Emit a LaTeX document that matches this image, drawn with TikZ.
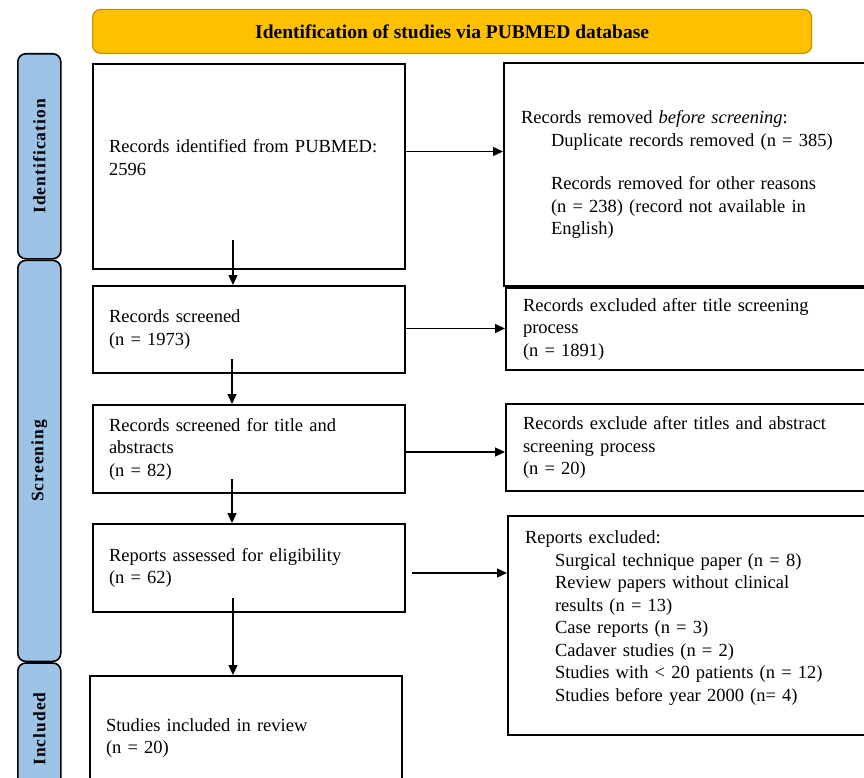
\documentclass[tikz,border=0pt]{standalone}
\usepackage{fontspec}
\setmainfont{Liberation Serif}
\usetikzlibrary{positioning,arrows.meta}

\definecolor{headgold}{HTML}{FFC000}
\definecolor{headedge}{HTML}{BF9000}
\definecolor{barblue}{HTML}{9DC3E6}

\tikzset{
  stage/.style={draw, line width=2pt, rectangle, minimum width=312pt,
    inner xsep=16pt, text width=280pt, align=left},
  excl/.style={draw, line width=2pt, rectangle, minimum width=380pt,
    inner xsep=17pt, text width=346pt, align=left},
  phase/.style={draw, line width=1.6pt, rounded corners=8pt, fill=barblue,
    minimum width=43pt},
  phaselabel/.style={rotate=90, font=\fontsize{17.5}{20}\selectfont\bfseries\addfontfeatures{LetterSpace=6}},
  flow/.style={line width=1.3pt, -{Triangle[length=10pt,width=9pt]}},
}
\newcommand{\ind}{\hspace*{30pt}}

\begin{document}
\begin{tikzpicture}[x=1pt, y=-1pt, font=\fontsize{18.5}{22.5}\selectfont]
      \useasboundingbox (0,0) rectangle (864,778);
      \clip (0,0) rectangle (864,778);

      % left column
      \node[stage, minimum height=205pt, anchor=north west] (ident) at (92,63)
        {Records identified from PUBMED:\\2596\\[-4pt]~};
      \node[stage, minimum height=87pt, below=15pt of ident] (screened)
        {Records screened\\(n = 1973)};
      \node[stage, minimum height=88pt, below=30pt of screened] (abstracts)
        {Records screened for title and\\abstracts\\(n = 82)};
      \node[stage, minimum height=88pt, below=29pt of abstracts] (eligible)
        {Reports assessed for eligibility\\(n = 62)};
      \node[stage, minimum height=124pt, below=62pt of eligible, xshift=-3pt] (included)
        {Studies included in review\\(n = 20)};

      % header
      \node[draw=headedge, line width=1.2pt, fill=headgold, rounded corners=8pt,
        minimum width=719pt, minimum height=44pt, font=\fontsize{19.5}{22}\selectfont\bfseries,
        above=9pt of ident.north west, anchor=south west] (head)
        {Identification of studies via PUBMED database};

      % right column
      \node[excl, minimum height=223pt, right=97pt of ident.north east, anchor=north west, yshift=1pt] (removed)
        {Records removed \emph{before screening}:\\
         \ind Duplicate records removed (n = 385)\\[21pt]
         \ind Records removed for other reasons\\
         \ind (n = 238) (record not available in\\
         \ind English)};
      \node[excl, minimum height=82pt, below=0pt of removed.south west, anchor=north west, xshift=2pt] (titleout)
        {Records excluded after title screening\\process\\(n = 1891)};
      \node[excl, minimum height=87pt, below=32pt of titleout] (abstractout)
        {Records exclude after titles and abstract\\screening process\\(n = 20)};
      \node[excl, minimum height=219pt, below=23pt of abstractout.south west, anchor=north west, xshift=2pt] (reportsout)
        {Reports excluded:\\
         \ind Surgical technique paper (n = 8)\\
         \ind Review papers without clinical\\
         \ind results (n = 13)\\
         \ind Case reports (n = 3)\\
         \ind Cadaver studies (n = 2)\\
         \ind Studies with < 20 patients (n = 12)\\
         \ind Studies before year 2000 (n= 4)\\[-4pt]~};

      % phase bars
      \node[phase, minimum height=205pt, anchor=north west] (idbar) at (17,53) {};
      \node[phase, minimum height=401pt, below=0pt of idbar] (scbar) {};
      \node[phase, minimum height=132pt, below=0pt of scbar] (inbar) {};
      \node[phaselabel] at (idbar) {Identification};
      \node[phaselabel] at (scbar) {Screening};
      \node[phaselabel] at (inbar) {Included};

      % arrows down
      \draw[flow] ([xshift=-16pt, yshift=30pt]ident.south) -- ([xshift=-16pt]screened.north);
      \draw[flow] ([xshift=-17pt, yshift=15pt]screened.south) -- ([xshift=-17pt]abstracts.north);
      \draw[flow] ([xshift=-17pt, yshift=15pt]abstracts.south) -- ([xshift=-17pt]eligible.north);
      \draw[flow] ([xshift=-16pt, yshift=15pt]eligible.south) -- ([xshift=-13pt]included.north);

      % arrows right
      \draw[flow] ([yshift=15pt]ident.east) coordinate (a1) -- (a1 -| removed.west);
      \draw[flow] ([yshift=1pt]screened.east) coordinate (a2) -- (a2 -| titleout.west);
      \draw[flow] ([yshift=-3pt]abstracts.east) coordinate (a3) -- (a3 -| abstractout.west);
      \draw[flow] ([xshift=6pt, yshift=-5pt]eligible.east) coordinate (a4) -- (a4 -| reportsout.west);
\end{tikzpicture}
\end{document}
